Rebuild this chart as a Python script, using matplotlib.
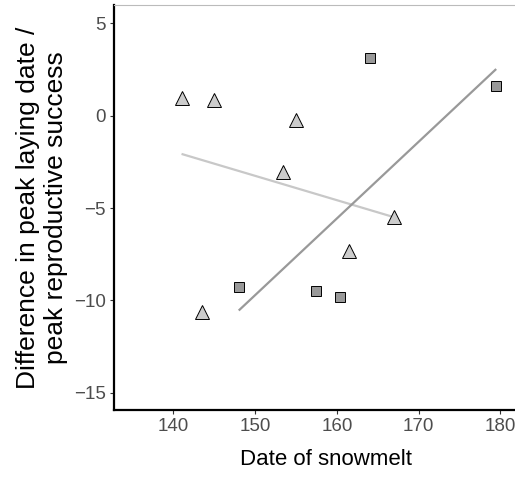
import numpy as np
import matplotlib
matplotlib.use("Agg")
import matplotlib.pyplot as plt

plt.rcParams['font.family'] = ['Liberation Sans', 'DejaVu Sans']

# triangles (light group)
tri_x = [141.0, 145.0, 155.0, 153.4, 167.0, 161.5, 143.5]
tri_y = [0.96, 0.87, -0.22, -3.05, -5.5, -7.35, -10.65]
# squares (dark group)
sq_x = [148.0, 157.5, 160.4, 164.0, 179.5]
sq_y = [-9.28, -9.52, -9.84, 3.12, 1.59]

xticks = [140, 150, 160, 170, 180]
yticks = [5, 0, -5, -10, -15]

fig = plt.figure(figsize=(5.15, 4.78), dpi=100)
ax = fig.add_axes([0.2214, 0.1423, 0.823, 0.8472])

# linear fits, drawn over the range of each group
for xs, ys, col in [(tri_x, tri_y, '#c8c8c8'), (sq_x, sq_y, '#999999')]:
    b, a = np.polyfit(xs, ys, 1)
    xx = np.array([min(xs), max(xs)])
    ax.plot(xx, a + b * xx, color=col, lw=1.6, zorder=2, solid_capstyle='butt')

ax.plot(tri_x, tri_y, linestyle='none', marker='^', ms=9.5, mfc='#cccccc',
        mec='black', mew=0.7, zorder=3)
ax.plot(sq_x, sq_y, linestyle='none', marker='s', ms=6.8, mfc='#999999',
        mec='black', mew=0.7, zorder=3)

ax.set_xlim(132.74, 184.6)
ax.set_ylim(-15.94, 6.0)
ax.set_xticks(xticks)
ax.set_yticks(yticks)
ax.set_yticklabels(['5', '0', '\u22125', '\u221210', '\u221215'])

for s in ['left', 'bottom']:
    ax.spines[s].set_linewidth(1.6)
    ax.spines[s].set_color('black')
ax.spines['right'].set_visible(False)
ax.spines['top'].set_color('#bbbbbb')
ax.spines['top'].set_linewidth(0.8)

ax.tick_params(axis='both', direction='out', length=3, width=0.8,
               color='#333333', labelcolor='#4d4d4d', labelsize=13.5, pad=3)

ax.set_xlabel('Date of snowmelt', fontsize=16, labelpad=10)
ax.set_ylabel('Difference in peak laying date /\npeak reproductive success',
              fontsize=19, labelpad=4, linespacing=1.25)

fig.savefig('out.png', dpi=100)
